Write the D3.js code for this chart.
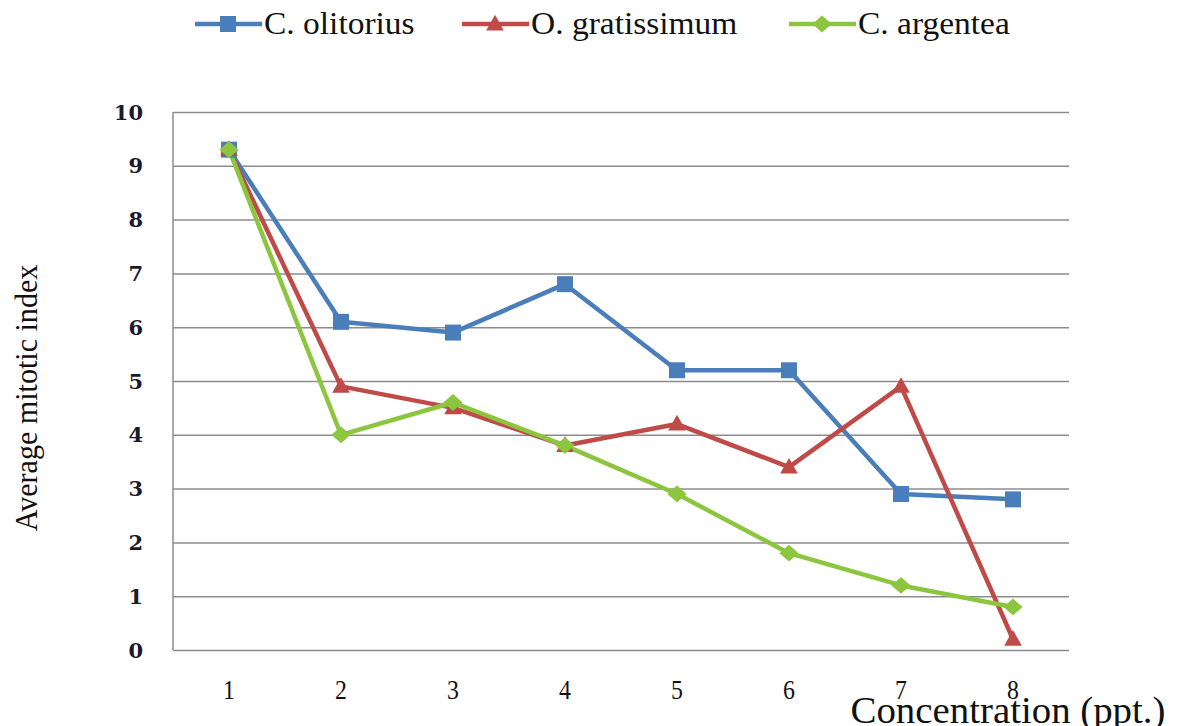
<!DOCTYPE html>
<html>
<head>
<meta charset="utf-8">
<script src="https://cdn.jsdelivr.net/npm/d3@7"></script>
<style>
    body { margin: 0; background: #fff; }
    svg { display: block; }
    text { font-family: 'Liberation Serif', 'Times New Roman', serif; }
    text.num { font-family: 'DejaVu Serif', serif; }
</style>
</head>
<body>
<svg id="chart" width="1179" height="726"></svg>
<script>
const categories = ['1', '2', '3', '4', '5', '6', '7', '8'];
const yTicks = [0, 1, 2, 3, 4, 5, 6, 7, 8, 9, 10];
const seriesNames = ['C. olitorius', 'O. gratissimum', 'C. argentea'];
const olitorius = [9.3, 6.1, 5.9, 6.8, 5.2, 5.2, 2.9, 2.8];
const gratissimum = [9.3, 4.9, 4.5, 3.8, 4.2, 3.4, 4.9, 0.2];
const argentea = [9.3, 4.0, 4.6, 3.8, 2.9, 1.8, 1.2, 0.8];

const PLOT_LEFT = 173;
const PLOT_RIGHT = 1069;
const PLOT_TOP = 112;
const PLOT_BOTTOM = 650;
const COLOR_GRID = '#8c8c8c';

const series = [
    { name: seriesNames[0], values: olitorius, color: '#4a7ebb', marker: 'square' },
    { name: seriesNames[1], values: gratissimum, color: '#be4b48', marker: 'triangle' },
    { name: seriesNames[2], values: argentea, color: '#8cc63f', marker: 'diamond' }
];

const svg = d3.select('#chart');
const g = svg.append('g');

const x = d3.scalePoint().domain(categories).range([PLOT_LEFT, PLOT_RIGHT]).padding(0.5);
const y = d3.scaleLinear().domain([0, 10]).range([PLOT_BOTTOM, PLOT_TOP]);

// squeezed serif text, like the stretched original
function label(parent, str, tx, ty, opts) {
    const t = parent.append('g')
        .attr('transform', 'translate(' + tx + ',' + ty + ')' + (opts.rotate ? ' rotate(' + opts.rotate + ')' : '') + ' scale(' + (opts.sx || 1) + ',1)');
    t.append('text')
        .text(str)
        .attr('class', opts.cls || null)
        .attr('x', 0).attr('y', 0)
        .attr('text-anchor', opts.anchor || 'start')
        .attr('font-size', opts.size)
        .attr('font-weight', opts.weight || 'normal')
        .attr('fill', opts.fill || '#111');
    return t;
}

function markerPath(type, size) {
    const s = size / 2;
    if (type === 'square') return 'M' + (-s) + ',' + (-s) + 'h' + size + 'v' + size + 'h' + (-size) + 'Z';
    if (type === 'triangle') return 'M0,' + (-s * 1.15) + 'L' + (s * 1.1) + ',' + (s * 0.8) + 'L' + (-s * 1.1) + ',' + (s * 0.8) + 'Z';
    return 'M0,' + (-s * 1.05) + 'L' + (s * 1.2) + ',0L0,' + (s * 1.05) + 'L' + (-s * 1.2) + ',0Z';
}

// horizontal gridlines
const yAxis = d3.axisLeft(y).tickValues(yTicks).tickSize(-(PLOT_RIGHT - PLOT_LEFT)).tickFormat('');
g.append('g')
    .attr('transform', 'translate(' + PLOT_LEFT + ',0)')
    .call(yAxis)
    .call(a => a.select('.domain').remove())
    .call(a => a.selectAll('line').attr('stroke', COLOR_GRID).attr('stroke-width', 1.5));

// left axis line
g.append('line')
    .attr('x1', PLOT_LEFT).attr('x2', PLOT_LEFT)
    .attr('y1', PLOT_TOP).attr('y2', PLOT_BOTTOM)
    .attr('stroke', COLOR_GRID).attr('stroke-width', 1.5);

// y tick labels
yTicks.forEach(function (v) {
    label(g, String(v), 143, y(v) + 7.5, { size: 21, anchor: 'end', weight: 'bold', cls: 'num', fill: '#1a1a2a' });
});

// x tick labels
categories.forEach(function (c) {
    label(g, c, x(c), 699, { size: 28, anchor: 'middle', sx: 0.85 });
});

// axis titles
label(g, 'Average mitotic index', 37, 398, { size: 32, anchor: 'middle', rotate: -90, sx: 0.94 });
label(g, 'Concentration (ppt.)', 1008, 723, { size: 37, anchor: 'middle', sx: 1.05 });

// lines + markers
const line = d3.line()
    .x(function (d, i) { return x(categories[i]); })
    .y(function (d) { return y(d); });

series.forEach(function (s) {
    g.append('path')
        .attr('d', line(s.values))
        .attr('fill', 'none')
        .attr('stroke', s.color)
        .attr('stroke-width', 4.5)
        .attr('stroke-linejoin', 'round');
});
series.forEach(function (s) {
    g.selectAll(null)
        .data(s.values)
        .enter()
        .append('path')
        .attr('d', markerPath(s.marker, 16))
        .attr('transform', function (d, i) { return 'translate(' + x(categories[i]) + ',' + y(d) + ')'; })
        .attr('fill', s.color);
});

// legend
const legendX = [195, 462, 789];
series.forEach(function (s, i) {
    const lx = legendX[i];
    g.append('line')
        .attr('x1', lx).attr('x2', lx + 67)
        .attr('y1', 24).attr('y2', 24)
        .attr('stroke', s.color).attr('stroke-width', 4.5);
    g.append('path')
        .attr('d', markerPath(s.marker, 16))
        .attr('transform', 'translate(' + (lx + 33) + ',24)')
        .attr('fill', s.color);
    label(g, s.name, lx + 69, 34, { size: 31, sx: 1.08 });
});
</script>
</body>
</html>
